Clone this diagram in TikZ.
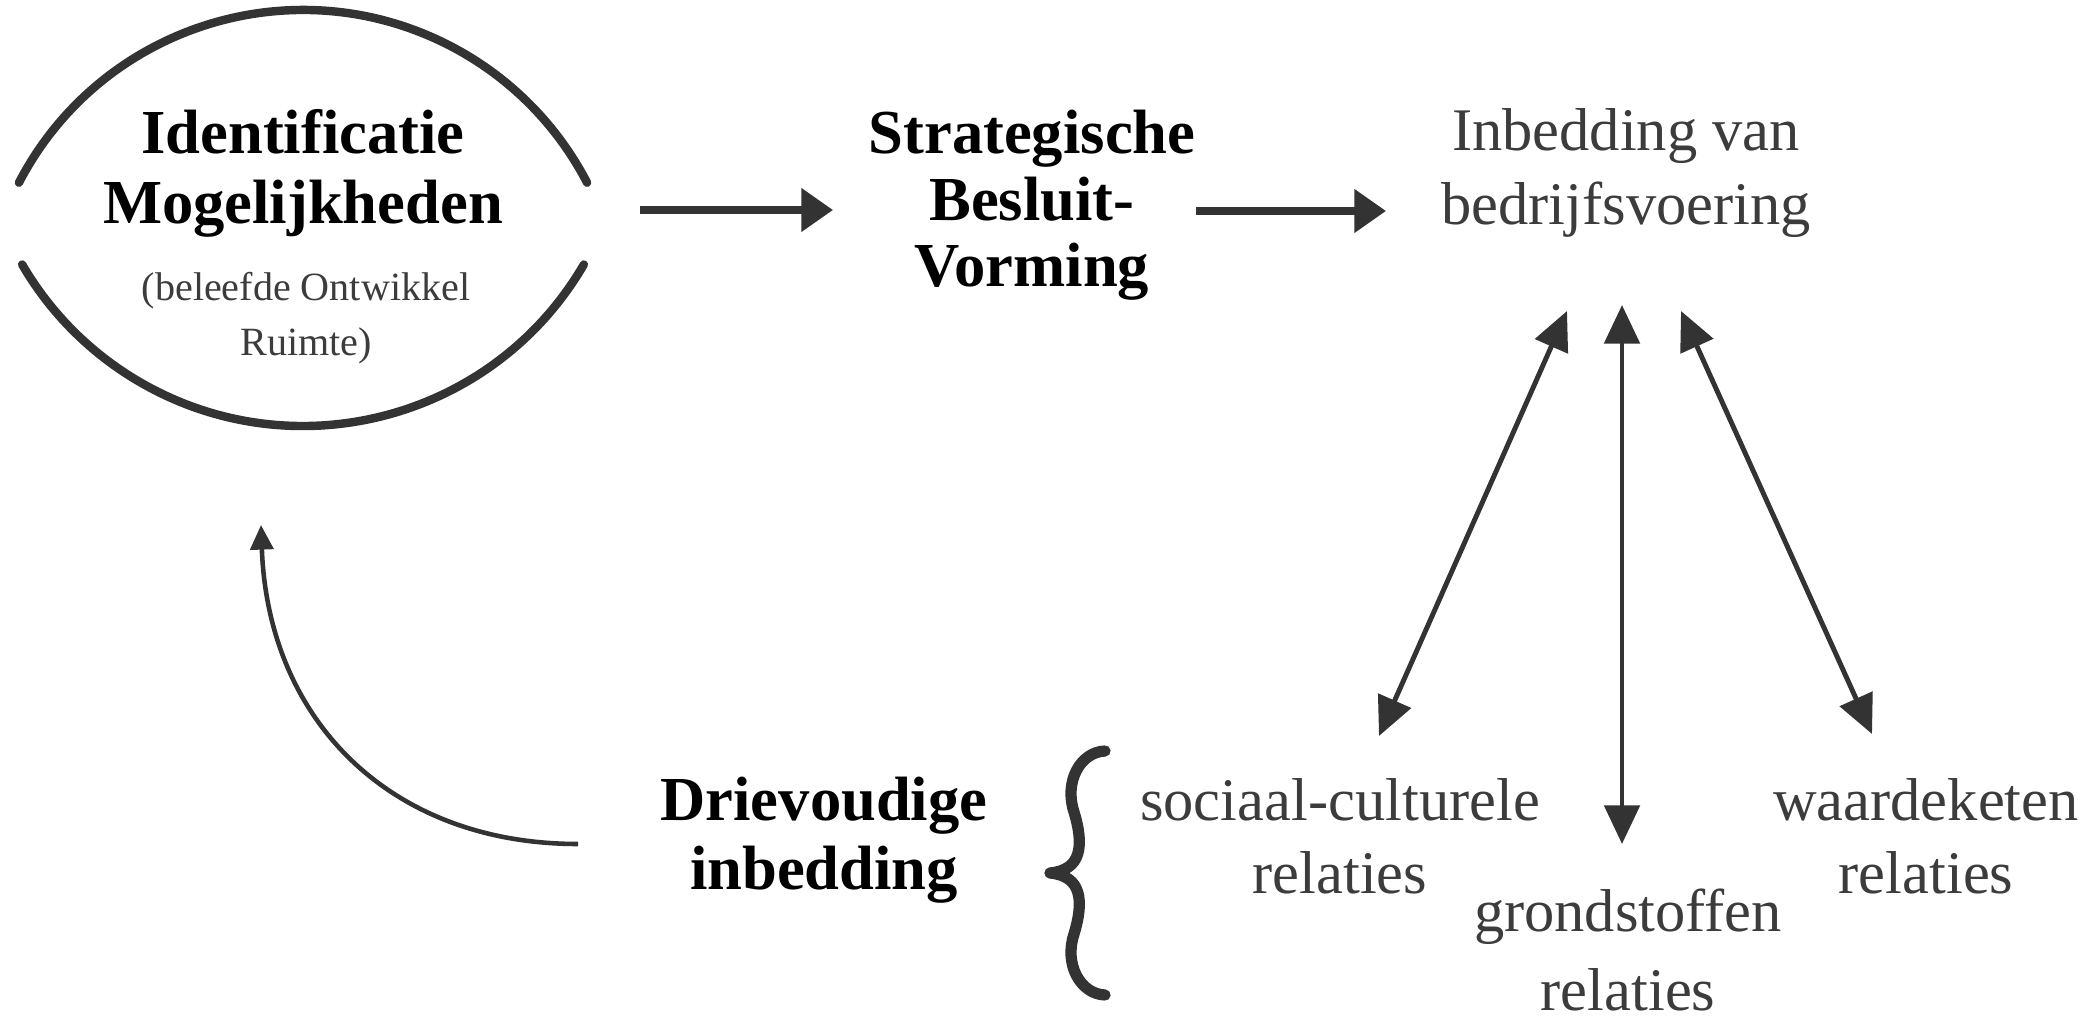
\documentclass[tikz,border=0pt]{standalone}
\usepackage{fontspec}
\setmainfont{Liberation Serif}
\usetikzlibrary{arrows.meta}
\definecolor{ink}{HTML}{333333}
\definecolor{txt}{HTML}{3C3C3C}
\newcommand\stk[1]{\begin{tabular}[t]{@{}c@{}}#1\end{tabular}}
\begin{document}
\begin{tikzpicture}[x=0.01cm,y=-0.01cm,
  title/.style={font=\bfseries\fontsize{17.8}{19.9}\selectfont, text=black, inner sep=0, anchor=base},
  plain/.style={font=\fontsize{17.2}{21}\selectfont, text=txt, inner sep=0, anchor=base},
  small/.style={font=\fontsize{11.4}{15.4}\selectfont, text=txt, inner sep=0, anchor=base},
  flow/.style={draw=ink, line width=2pt, -{Triangle[length=9pt,width=12pt]}},
  link/.style={draw=ink, line width=1.4pt, {Triangle[length=11pt,width=10pt]}-{Triangle[length=11pt,width=10pt]}},
  back/.style={draw=ink, line width=1.3pt, -{Triangle[length=7pt,width=6.5pt]}},
  rim/.style={draw=ink, line width=2.4pt, line cap=round},
  bracestroke/.style={draw=ink, line width=3.2pt, line cap=round, line join=round}]
\useasboundingbox (0,0) rectangle (2100,1034);

% lens made of two circular arcs
\coordinate (tc) at (303,330);
\coordinate (bc) at (303,101);
\draw[rim] (tc) ++(207.4:320) arc[start angle=207.4, end angle=332.6, radius=320];
\draw[rim] (bc) ++(30.2:325) arc[start angle=30.2, end angle=149.8, radius=325];

% texts
\node[title] (ident) at (303,154) {\stk{Identificatie\\Mogelijkheden}};
\node[small] (sub) at (306,301) {\stk{(beleefde Ontwikkel\\Ruimte)}};
\node[title, font=\bfseries\fontsize{17.8}{18.8}\selectfont] (strat) at (1032,154) {\stk{Strategische\\Besluit-\\Vorming}};
\node[plain, font=\fontsize{17.2}{20.8}\selectfont] (inbed) at (1626,151) {\stk{Inbedding van\\bedrijfsvoering}};
\node[title] (driev) at (824,820) {\stk{Drievoudige\\inbedding}};
\node[plain] (socio) at (1340,820) {\stk{sociaal-culturele\\relaties}};
\node[plain, font=\fontsize{17.2}{22.5}\selectfont] (grond) at (1628,931) {\stk{grondstoffen\\relaties}};
\node[plain] (waarde) at (1926,820) {\stk{waardeketen\\relaties}};

% horizontal arrows
\coordinate (a1s) at (640,210);
\coordinate (a1e) at (833,210);
\coordinate (a2s) at (1196,211);
\coordinate (a2e) at (1386,211);
\draw[flow] (a1s) -- (a1e);
\draw[flow] (a2s) -- (a2e);

% double arrows
\coordinate (lt) at (1567,311);
\coordinate (lb) at (1379,736);
\coordinate (mt) at (1622,305);
\coordinate (mb) at (1622,844);
\coordinate (rt) at (1681,311);
\coordinate (rb) at (1872,734);
\draw[link] (lt) -- (lb);
\draw[link] (mt) -- (mb);
\draw[link] (rt) -- (rb);

% curved return arrow
\coordinate (cs) at (578,844);
\coordinate (ce) at (261,525);
\draw[back] (cs) .. controls (390,844) and (268,720) .. (ce);

% brace
\coordinate (bt) at (1105,751);
\coordinate (bu) at (1074,812);
\coordinate (bm) at (1050,873);
\coordinate (bl) at (1074,934);
\coordinate (bb) at (1105,995);
\draw[bracestroke] (bt) .. controls (1080,752) and (1064,782) .. (bu)
  .. controls (1084,845) and (1082,870) .. (bm)
  .. controls (1082,876) and (1084,901) .. (bl)
  .. controls (1064,964) and (1080,994) .. (bb);
\end{tikzpicture}
\end{document}
